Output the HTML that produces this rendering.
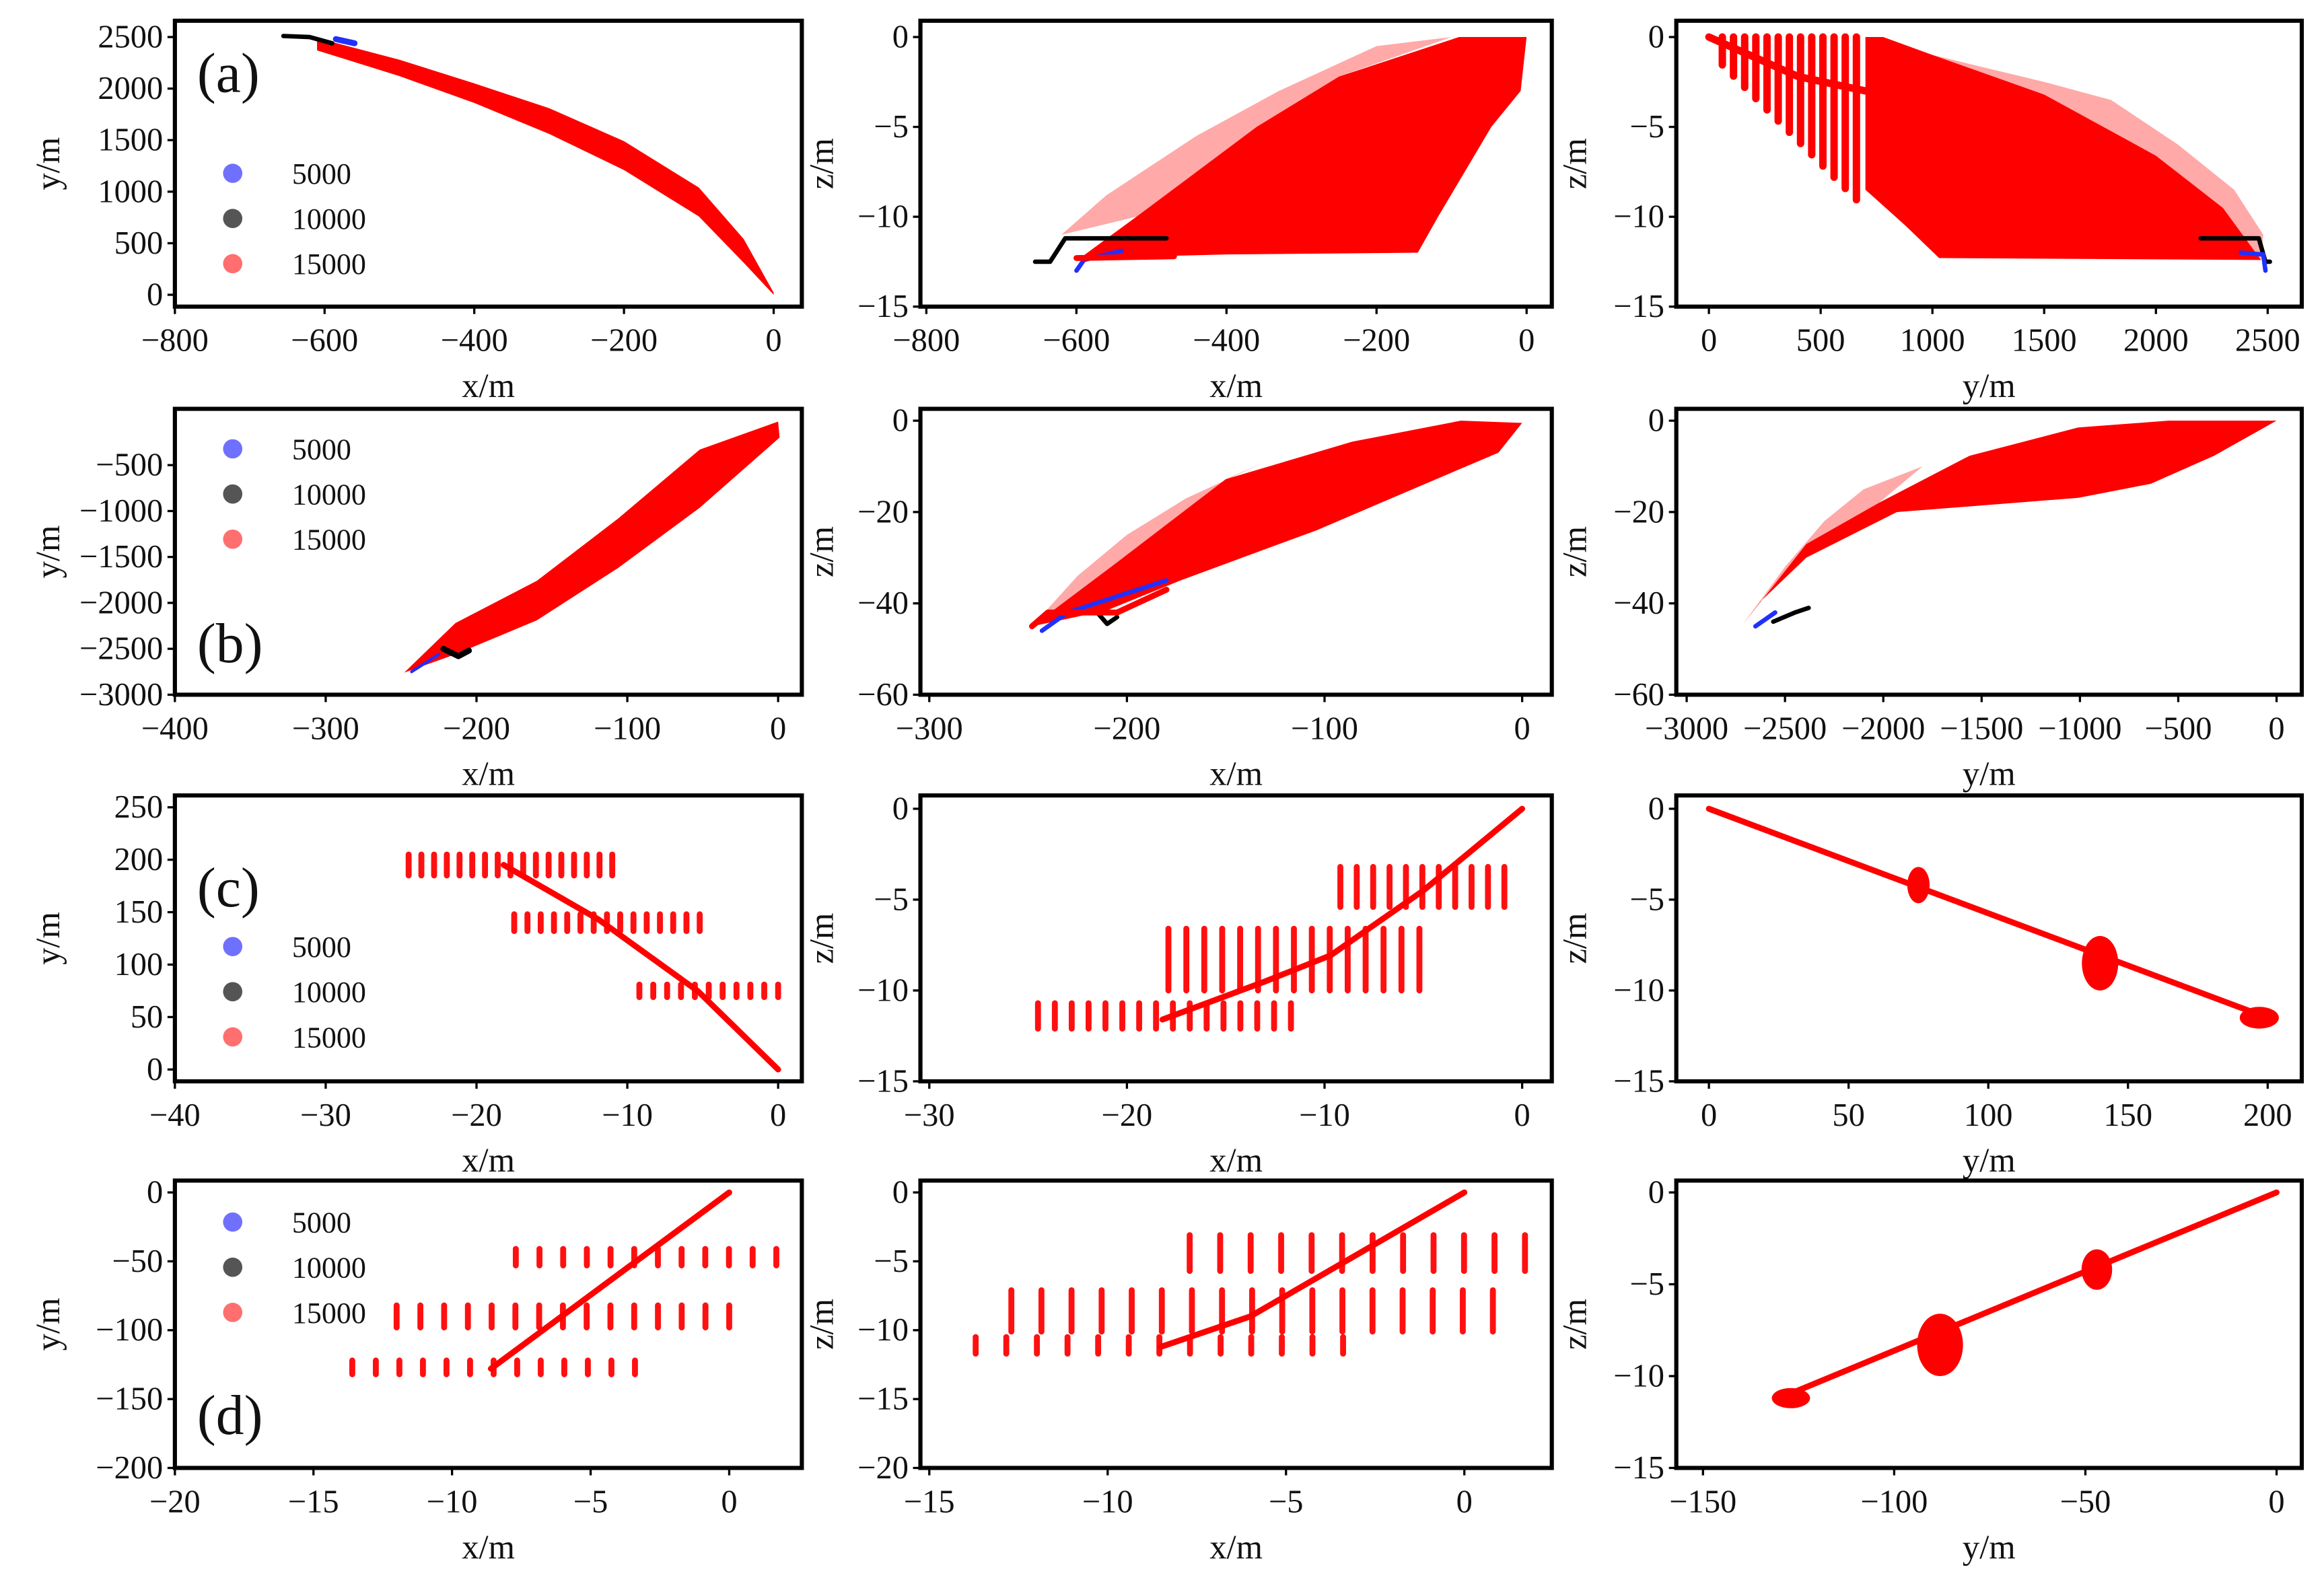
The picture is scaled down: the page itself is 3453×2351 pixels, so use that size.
<!DOCTYPE html>
<html><head><meta charset="utf-8">
<style>
html,body{margin:0;padding:0;background:#fff;}
svg{display:block;}
text{font-family:"Liberation Serif",serif;fill:#111;}
</style></head>
<body>
<svg id="fig" xmlns="http://www.w3.org/2000/svg" width="3453" height="2351" viewBox="0 0 1568 1068" preserveAspectRatio="none"></svg>
<script>
// ---------- data ----------
const legendLabels = ["5000","10000","15000"];
const legendColors = ["#7070ff","#555555","#ff6f6f"];

// (a) x-y band
const aXYupper = [[-610,2490],[-500,2280],[-400,2050],[-300,1810],[-200,1490],[-100,1040],[-40,540],[0,20]];
const aXYlower = [[-610,2370],[-500,2120],[-400,1860],[-300,1560],[-200,1210],[-100,760],[-40,310],[0,0]];
const aXYblack = [[-655,2510],[-620,2500],[-590,2440]];
// (a) x-z
const aXZpoly = [[-595,-12.3],[-520,-10],[-360,-5],[-250,-2.2],[-90,0],[0,0],[-8,-3],[-47,-5],[-118,-10],[-145,-12],[-400,-12.1],[-595,-12.3]];
const aXZscatter = [[-620,-11],[-560,-8.8],[-440,-5.5],[-330,-3],[-200,-0.5],[-100,0],[-250,-2.2],[-360,-5],[-520,-10]];
const aXZblack = [[-655,-12.5],[-635,-12.5],[-615,-11.2],[-480,-11.2]];
const aXZblue = [[-600,-13],[-590,-12.4],[-540,-11.9]];
// (a) y-z
const aYZpoly = [[700,0],[780,0],[1000,-1],[1500,-3.2],[2000,-6.6],[2300,-9.5],[2470,-12.4],[1030,-12.3],[880,-10.5],[700,-8.5]];
const aYZscatter = [[1000,-1],[1500,-2.5],[1800,-3.5],[2100,-6],[2350,-8.5],[2480,-11],[2470,-12.4],[2300,-9.5],[2000,-6.6],[1500,-3.2]];
const aYZstripesY = [60,110,160,210,260,310,360,410,460,510,560,610,660];
const aYZblack = [[2200,-11.2],[2460,-11.2],[2490,-12.5],[2510,-12.5]];
const aYZblue = [[2380,-12],[2480,-12.1],[2490,-13]];
// (b)
const bXYupper = [[-248,-2760],[-214,-2220],[-160,-1760],[-106,-1080],[-52,-330],[0,-25]];
const bXYlower = [[-248,-2760],[-214,-2560],[-160,-2190],[-106,-1620],[-52,-965],[1,-200],[0,-25]];
const bXZupper = [[-248,-45],[-205,-31],[-150,-12.8],[-86,-4.6],[-31,0],[0,-0.5]];
const bXZlower = [[-248,-45],[-210,-41.5],[-173,-35],[-104,-24],[-49,-13.8],[-12,-7],[0,-0.5]];
const bXZscatter = [[-248,-45],[-225,-34],[-200,-25],[-170,-17],[-130,-9],[-150,-12.8],[-205,-31]];
const bXZline = [[-248,-45],[-240,-42],[-205,-42],[-180,-37]];
const bYZupper = [[-2714,-44.6],[-2392,-27],[-2023,-18],[-1562,-7.7],[-1009,-1.5],[-550,0],[0,0]];
const bYZlower = [[-2714,-44.6],[-2622,-39.5],[-2392,-30],[-1931,-20],[-1009,-16.9],[-640,-13.8],[-318,-7.7],[0,0]];
const bYZscatter = [[-2714,-44.6],[-2500,-32],[-2300,-22],[-2100,-15],[-1800,-10],[-2023,-18],[-2392,-27]];
// (c)
const cXYline = [[-18.2,195],[-11.9,143],[-5.3,74.5],[0,0]];
const cXYrows = [ {c:195,x0:-24.5,x1:-11,n:17,h:10}, {c:140,x0:-17.5,x1:-5.2,n:15,h:8}, {c:75,x0:-9.2,x1:0,n:11,h:6} ];
const cXZline = [[-18.2,-11.6],[-13,-9.5],[-9.7,-8.07],[-5,-4.5],[0,0]];
const cXZrows = [ {c:-4.3,x0:-9.2,x1:-0.9,n:11,h:1.1}, {c:-8.3,x0:-17.9,x1:-5.2,n:15,h:1.7}, {c:-11.4,x0:-24.5,x1:-11.7,n:16,h:0.7} ];
const cYZline = [[0,0],[200,-11.5]];
const cYZblobs = [ {x:75,y:-4.2,rx:4,ry:1.0}, {x:140,y:-8.5,rx:6.5,ry:1.5}, {x:197,y:-11.5,rx:7,ry:0.6} ];
// (d)
const dXYline = [[-8.6,-128],[0,0]];
const dXYrows = [ {c:-47,x0:-7.7,x1:1.7,n:12,h:6}, {c:-90,x0:-12,x1:0,n:15,h:8}, {c:-127,x0:-13.6,x1:-3.4,n:13,h:5} ];
const dXZline = [[-8.5,-11.2],[-6,-9],[0,0]];
const dXZrows = [ {c:-4.4,x0:-7.7,x1:1.7,n:12,h:1.3}, {c:-8.6,x0:-12.7,x1:0.8,n:17,h:1.5}, {c:-11.1,x0:-13.7,x1:-3.4,n:13,h:0.6} ];
const dYZline = [[-130,-11.2],[0,0]];
const dYZblobs = [ {x:-47,y:-4.2,rx:4,ry:1.1}, {x:-88,y:-8.3,rx:6,ry:1.7}, {x:-127,y:-11.2,rx:5,ry:0.55} ];

// ---------- panels ----------
const panels = [
 {id:"a-xy",L:118,R:541,T:14,B:207,xa:[-800,118,0,522],ya:[0,199,2500,25],xt:[-800,-600,-400,-200,0],yt:[0,500,1000,1500,2000,2500],xl:"x/m",yl:"y/m"},
 {id:"a-xz",L:621,R:1047,T:14,B:207,xa:[-800,625,0,1030],ya:[0,25,-15,207],xt:[-800,-600,-400,-200,0],yt:[0,-5,-10,-15],xl:"x/m",yl:"z/m"},
 {id:"a-yz",L:1131,R:1553,T:14,B:207,xa:[0,1153,2500,1530],ya:[0,25,-15,207],xt:[0,500,1000,1500,2000,2500],yt:[0,-5,-10,-15],xl:"y/m",yl:"z/m"},
 {id:"b-xy",L:118,R:541,T:276,B:469,xa:[-400,118,0,525],ya:[-500,314,-3000,469],xt:[-400,-300,-200,-100,0],yt:[-500,-1000,-1500,-2000,-2500,-3000],xl:"x/m",yl:"y/m"},
 {id:"b-xz",L:621,R:1047,T:276,B:469,xa:[-300,627,0,1027],ya:[0,284,-60,469],xt:[-300,-200,-100,0],yt:[0,-20,-40,-60],xl:"x/m",yl:"z/m"},
 {id:"b-yz",L:1131,R:1553,T:276,B:469,xa:[-3000,1138,0,1536],ya:[0,284,-60,469],xt:[-3000,-2500,-2000,-1500,-1000,-500,0],yt:[0,-20,-40,-60],xl:"y/m",yl:"z/m"},
 {id:"c-xy",L:118,R:541,T:537,B:730,xa:[-40,118,0,525],ya:[0,722,250,545],xt:[-40,-30,-20,-10,0],yt:[0,50,100,150,200,250],xl:"x/m",yl:"y/m"},
 {id:"c-xz",L:621,R:1047,T:537,B:730,xa:[-30,627,0,1027],ya:[0,546,-15,730],xt:[-30,-20,-10,0],yt:[0,-5,-10,-15],xl:"x/m",yl:"z/m"},
 {id:"c-yz",L:1131,R:1553,T:537,B:730,xa:[0,1153,200,1530],ya:[0,546,-15,730],xt:[0,50,100,150,200],yt:[0,-5,-10,-15],xl:"y/m",yl:"z/m"},
 {id:"d-xy",L:118,R:541,T:797,B:991,xa:[-20,118,0,492],ya:[0,805,-200,991],xt:[-20,-15,-10,-5,0],yt:[0,-50,-100,-150,-200],xl:"x/m",yl:"y/m"},
 {id:"d-xz",L:621,R:1047,T:797,B:991,xa:[-15,627,0,988],ya:[0,805,-20,991],xt:[-15,-10,-5,0],yt:[0,-5,-10,-15,-20],xl:"x/m",yl:"z/m"},
 {id:"d-yz",L:1131,R:1553,T:797,B:991,xa:[-150,1149,0,1536],ya:[0,805,-15,991],xt:[-150,-100,-50,0],yt:[0,-5,-10,-15],xl:"y/m",yl:"z/m"}
];

const NS="http://www.w3.org/2000/svg";
const svg=document.getElementById("fig");
function mk(tag,attrs,parent){const e=document.createElementNS(NS,tag);for(const k in attrs)e.setAttribute(k,attrs[k]);(parent||svg).appendChild(e);return e;}
function sx(p,v){return p.xa[1]+(v-p.xa[0])*(p.xa[3]-p.xa[1])/(p.xa[2]-p.xa[0]);}
function sy(p,v){return p.ya[1]+(v-p.ya[0])*(p.ya[3]-p.ya[1])/(p.ya[2]-p.ya[0]);}
function fmt(v){return v<0?"\u2212"+Math.abs(v):String(v);}
function pts(p,arr){return arr.map(a=>sx(p,a[0]).toFixed(1)+","+sy(p,a[1]).toFixed(1)).join(" ");}

const G={};
panels.forEach(p=>{
  const g=mk("g",{});
  
  
  const clip=mk("clipPath",{id:"clip-"+p.id},g);
  mk("rect",{x:p.L,y:p.T,width:p.R-p.L,height:p.B-p.T},clip);
  const plot=mk("g",{"clip-path":"url(#clip-"+p.id+")"},g);
  
  
  G[p.id]={p:p,g:g,plot:plot};
});

function poly(id,arr,fill,op,name){const P=G[id];const e=mk("polygon",{points:pts(P.p,arr),fill:fill,"fill-opacity":op},P.plot);
  
  return e;}
function band(id,up,lo,fill,name){poly(id,up.concat(lo.slice().reverse()),fill,1,name);}
function line(id,arr,col,w,name){const P=G[id];const e=mk("polyline",{points:pts(P.p,arr),fill:"none",stroke:col,"stroke-width":w,"stroke-linejoin":"round","stroke-linecap":"round"},P.plot);
  
  return e;}
function rows(id,rs,name){const P=G[id];rs.forEach((r,ri)=>{for(let i=0;i<r.n;i++){const xv=r.x0+(r.x1-r.x0)*i/(r.n-1);
  const e=mk("line",{x1:sx(P.p,xv),x2:sx(P.p,xv),y1:sy(P.p,r.c+r.h),y2:sy(P.p,r.c-r.h),stroke:"#ff1010","stroke-width":4,"stroke-linecap":"round"},P.plot);
  
  }});}
function blobs(id,bs,name){const P=G[id];bs.forEach(b=>{const cx=sx(P.p,b.x),cy=sy(P.p,b.y);
  const rx=Math.abs(sx(P.p,b.x+b.rx)-cx),ry=Math.abs(sy(P.p,b.y+b.ry)-cy);
  const e=mk("ellipse",{cx:cx,cy:cy,rx:rx,ry:ry,fill:"#ff0000"},P.plot);
  
  });}

// (a)
band("a-xy",aXYupper,aXYlower,"#ff0000","particle-cloud-a-xy");
line("a-xy",aXYblack,"#000",3,"trajectory-10000-a-xy");
line("a-xy",[[-585,2480],[-560,2440]],"#2030ff",4,"trajectory-5000-a-xy");
poly("a-xz",aXZscatter,"#ff4040",0.45,"scatter-halo-a-xz");
poly("a-xz",aXZpoly,"#ff0000",1,"particle-cloud-a-xz");
line("a-xz",aXZblack,"#000",3,"trajectory-10000-a-xz");
line("a-xz",aXZblue,"#2030ff",3,"trajectory-5000-a-xz");
line("a-xz",[[-600,-12.3],[-470,-12.2]],"#ff0000",4,"trajectory-15000-a-xz");
poly("a-yz",aYZscatter,"#ff4040",0.45,"scatter-halo-a-yz");
poly("a-yz",aYZpoly,"#ff0000",1,"particle-cloud-a-yz");
(function(){const P=G["a-yz"];aYZstripesY.forEach(yv=>{const e=mk("line",{x1:sx(P.p,yv),x2:sx(P.p,yv),y1:sy(P.p,0),y2:sy(P.p,-12.5*yv/1000-0.8),stroke:"#ff0000","stroke-width":5,"stroke-linecap":"round"},P.plot);
  
  });})();
line("a-yz",[[0,0],[400,-2.2],[700,-3]],"#ff0000",5,"trajectory-15000-a-yz");
line("a-yz",aYZblack,"#000",3,"trajectory-10000-a-yz");
line("a-yz",aYZblue,"#2030ff",3,"trajectory-5000-a-yz");
// (b)
band("b-xy",bXYupper,bXYlower,"#ff0000","particle-cloud-b-xy");
line("b-xy",[[-222,-2500],[-212,-2580],[-205,-2520]],"#000",4,"trajectory-10000-b-xy");
line("b-xy",[[-243,-2750],[-225,-2560]],"#2030ff",2,"trajectory-5000-b-xy");
poly("b-xz",bXZscatter,"#ff4040",0.45,"scatter-halo-b-xz");
band("b-xz",bXZupper,bXZlower,"#ff0000","particle-cloud-b-xz");
line("b-xz",[[-215,-42],[-210,-44.5],[-205,-43]],"#000",3,"trajectory-10000-b-xz");
line("b-xz",[[-243,-46],[-230,-42],[-180,-35]],"#2030ff",3,"trajectory-5000-b-xz");
line("b-xz",bXZline,"#ff0000",4,"trajectory-15000-b-xz");
poly("b-yz",bYZscatter,"#ff4040",0.45,"scatter-halo-b-yz");
band("b-yz",bYZupper,bYZlower,"#ff0000","particle-cloud-b-yz");
line("b-yz",[[-2560,-44],[-2450,-42],[-2380,-41]],"#000",3,"trajectory-10000-b-yz");
line("b-yz",[[-2650,-45],[-2550,-42]],"#2030ff",3,"trajectory-5000-b-yz");
// (c)
rows("c-xy",cXYrows,"c-xy");
line("c-xy",cXYline,"#ff0000",4,"trajectory-c-xy");
rows("c-xz",cXZrows,"c-xz");
line("c-xz",cXZline,"#ff0000",4,"trajectory-c-xz");
line("c-yz",cYZline,"#ff0000",4,"trajectory-c-yz");
blobs("c-yz",cYZblobs,"cluster-c-yz");
// (d)
rows("d-xy",dXYrows,"d-xy");
line("d-xy",dXYline,"#ff0000",4,"trajectory-d-xy");
rows("d-xz",dXZrows,"d-xz");
line("d-xz",dXZline,"#ff0000",4,"trajectory-d-xz");
line("d-yz",dYZline,"#ff0000",4,"trajectory-d-yz");
blobs("d-yz",dYZblobs,"cluster-d-yz");

// axes
panels.forEach(p=>{
  const g=G[p.id].g;
  const fr=mk("rect",{x:p.L,y:p.T,width:p.R-p.L,height:p.B-p.T,fill:"none",stroke:"#000","stroke-width":2.8},g);
  
  
  p.xt.forEach(v=>{const x=sx(p,v);
    const t=mk("line",{x1:x,x2:x,y1:p.B,y2:p.B+5,stroke:"#000","stroke-width":1.5},g);
    
    
    const tx=mk("text",{x:x,y:p.B+30,"text-anchor":"middle","font-size":22},g);tx.textContent=fmt(v);
    
    });
  p.yt.forEach(v=>{const y=sy(p,v);
    const t=mk("line",{x1:p.L,x2:p.L-5,y1:y,y2:y,stroke:"#000","stroke-width":1.5},g);
    
    
    const tx=mk("text",{x:p.L-8,y:y+7,"text-anchor":"end","font-size":22},g);tx.textContent=fmt(v);
    
    });
  const xl=mk("text",{x:(p.L+p.R)/2,y:p.B+61,"text-anchor":"middle","font-size":23},g);xl.textContent=p.xl;
  
  
  const lx=p.L<200?40:(p.L<700?562:1070);
  const yl=mk("text",{x:lx,y:(p.T+p.B)/2,"text-anchor":"middle","font-size":23,transform:"rotate(-90 "+lx+" "+(p.T+p.B)/2+")"},g);yl.textContent=p.yl;
  
  
});

// legends and panel letters
const legendTops=[117,303,639,825];
legendTops.forEach((t,i)=>{
  const lg=mk("g",{});
  
  
  legendLabels.forEach((lab,j)=>{
    const c=mk("circle",{cx:157,cy:t+j*30.5,r:6.5,fill:legendColors[j]},lg);
    
    
    const tx=mk("text",{x:197,y:t+j*30.5+7,"font-size":20},lg);tx.textContent=lab;
    
    
  });
});
const letters=[["(a)",133,62],["(b)",133,447],["(c)",133,612],["(d)",133,968]];
letters.forEach(l=>{const tx=mk("text",{x:l[1],y:l[2],"font-size":38});tx.textContent=l[0];
  
  });
</script>
</body></html>
